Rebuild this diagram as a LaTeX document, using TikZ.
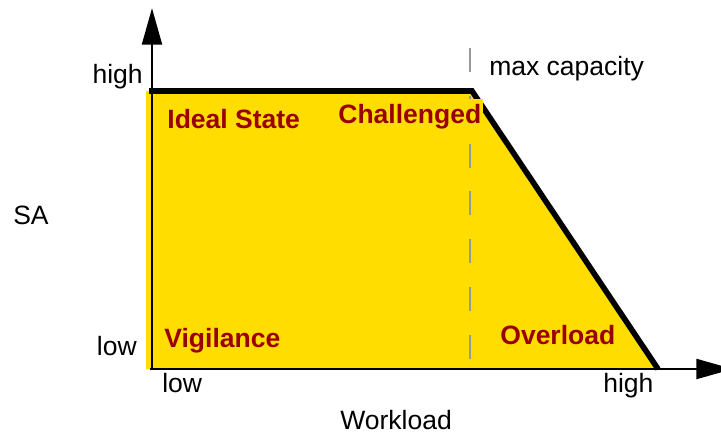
\documentclass[tikz,border=0pt]{standalone}
\usepackage{fontspec}
\setmainfont{Liberation Sans}
\usepackage{tikz}
\usetikzlibrary{arrows.meta, positioning, calc}
\usepackage{xcolor}
\definecolor{zoneyellow}{RGB}{255,221,0}
\definecolor{zonered}{RGB}{153,0,0}

\begin{document}
\begin{tikzpicture}[
        x=0.025cm, y=-0.025cm,
        axis/.style={line width=2.1pt, -{Triangle[length=26pt, width=14pt]}},
        edge/.style={line width=4pt, line join=miter},
        capline/.style={draw=gray!80, line width=1pt, dash pattern=on 17pt off 17pt},
        tick/.style={inner sep=0pt, font=\fontsize{18.85}{22}\selectfont},
        zone/.style={fill=zoneyellow, text=zonered, inner xsep=1.5pt, inner ysep=3.5pt,
            font=\fontsize{18.85}{22}\selectfont\bfseries}
    ]
        \useasboundingbox (0,0) rectangle (721,433);

        % region
        \fill[zoneyellow] (146,370) -- (146,91) -- (472,91) -- (658,369) -- (146,369) -- cycle;
        \draw[edge] (149,91) -- (472,91) -- (658,369);

        % max capacity
        \coordinate (captop) at (470,48);
        \coordinate (capbot) at (470,360);
        \draw[capline] (captop) -- (capbot);

        % axes
        \coordinate (origin) at (152,369);
        \coordinate (ytip) at (152,8);
        \coordinate (xtip) at (733,369);
        \draw[axis] (origin) -- (ytip);
        \draw[axis] ($(origin)+(-2,0)$) -- (xtip);

        \node[tick, anchor=base east] (yhigh) at (143,83) {high};
        \node[tick, anchor=base east] (ylow) at (137,355) {low};
        \node[tick, anchor=base west] (sa) at (13,224) {SA};
        \node[tick, anchor=base west] (xlow) at (162,392) {low};
        \node[tick, anchor=base west] (xhigh) at (603,392) {high};
        \node[tick, anchor=base west] (workload) at (340,429) {Workload};
        \node[tick, anchor=base west] (maxcap) at (489,75) {max capacity};

        \node[zone, anchor=base west] (ideal) at (165,128) {Ideal State};
        \node[zone, anchor=base west] (challenged) at (336,123) {Challenged};
        \node[zone, anchor=base west] (vigilance) at (162,347) {Vigilance};
        \node[zone, anchor=base west] (overload) at (498,344) {Overload};
    \end{tikzpicture}
\end{document}
